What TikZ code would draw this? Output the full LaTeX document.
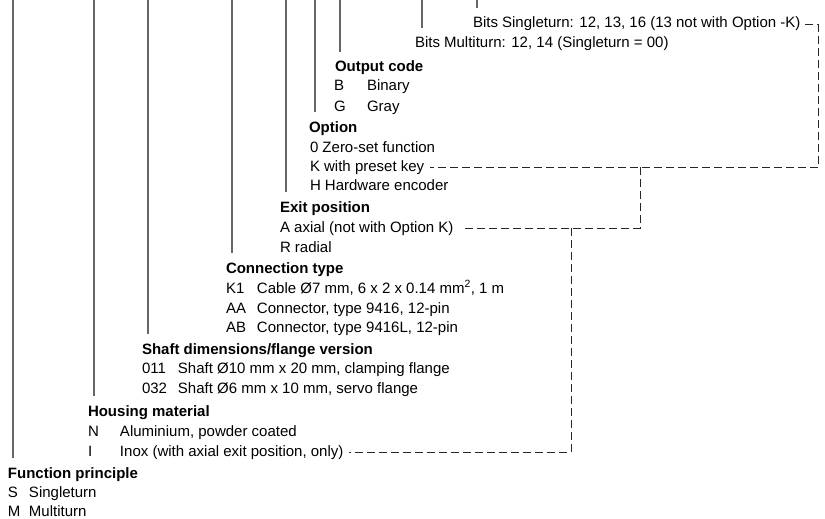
\documentclass[tikz,border=0pt]{standalone}
\usepackage{fontspec}
\setmainfont{Liberation Sans}
\newcommand{\keycol}[2]{\makebox[#1][l]{#2}}
\tikzset{
  txt/.style={anchor=base west,inner sep=0pt,outer sep=0pt,font=\fontsize{15}{18}\selectfont},
  head/.style={txt,font=\fontsize{15}{18}\selectfont\bfseries},
  stem/.style={draw=black!60,line width=1.2pt,shorten >=9pt},
  link/.style={draw=black!85,line width=0.9pt,dash pattern=on 8pt off 4pt}
}
\begin{document}
\begin{tikzpicture}[x=1pt,y=-1pt]
  \useasboundingbox (0,0) rectangle (825,519);

  \node[txt] (bitsS) at (473,28) {Bits Singleturn: 12, 13, 16 (13 not with Option -K)};
  \node[txt] (bitsM) at (415,48) {Bits Multiturn: 12, 14 (Singleturn = 00)};

  \node[head] (outHead) at (335,72) {Output code};
  \node[txt] (outB) at (334,91) {\keycol{33pt}{B}Binary};
  \node[txt] (outG) at (334,111) {\keycol{33pt}{G}Gray};

  \node[head] (optHead) at (309,132) {Option};
  \node[txt] (opt0) at (310,152) {0 Zero-set function};
  \node[txt] (optK) at (310,171) {K with preset key};
  \node[txt] (optH) at (310,190) {H Hardware encoder};

  \node[head] (exitHead) at (280,212) {Exit position};
  \node[txt] (exitA) at (280,232) {A axial (not with Option K)};
  \node[txt] (exitR) at (280,252) {R radial};

  \node[head] (conHead) at (226,273) {Connection type};
  \node[txt] (conK) at (226,293) {\keycol{31pt}{K1}Cable Ø7 mm, 6 x 2 x 0.14 mm\textsuperscript{2}, 1 m};
  \node[txt] (conAA) at (226,313) {\keycol{31pt}{AA}Connector, type 9416, 12-pin};
  \node[txt] (conAB) at (226,332) {\keycol{31pt}{AB}Connector, type 9416L, 12-pin};

  \node[head] (shaftHead) at (142,354) {Shaft dimensions/flange version};
  \node[txt] (shaft11) at (142,373) {\keycol{36pt}{011}Shaft Ø10 mm x 20 mm, clamping flange};
  \node[txt] (shaft32) at (142,393) {\keycol{36pt}{032}Shaft Ø6 mm x 10 mm, servo flange};

  \node[head] (housHead) at (88,416) {Housing material};
  \node[txt] (housN) at (88,436) {\keycol{32pt}{N}Aluminium, powder coated};
  \node[txt] (housI) at (88,456) {\keycol{32pt}{I}Inox (with axial exit position, only)};

  \node[head] (funHead) at (8,478) {Function principle};
  \node[txt] (funS) at (8,497) {\keycol{21pt}{S}Singleturn};
  \node[txt] (funM) at (8,516) {\keycol{21pt}{M}Multiturn};

  \foreach \sx/\tgt in {13/funHead,94/housHead,148/shaftHead,232/conHead,286/exitHead,
                        315/optHead,340/outHead,422/bitsM,477/bitsS}{
    \coordinate (top) at (\sx,0);
    \draw[stem] (top) -- (top |- \tgt.north);
  }

  \coordinate (rA) at (818,0);
  \coordinate (rB) at (640,0);
  \coordinate (rC) at (571,0);
  \draw[link] ([xshift=5pt]bitsS.east) -| (rA |- optK.east) -- ([xshift=6pt]optK.east);
  \draw[link] (rB |- optK.east) |- ([xshift=8pt]exitA.east);
  \draw[link] (rC |- exitA.east) |- ([xshift=6pt]housI.east);
\end{tikzpicture}
\end{document}
